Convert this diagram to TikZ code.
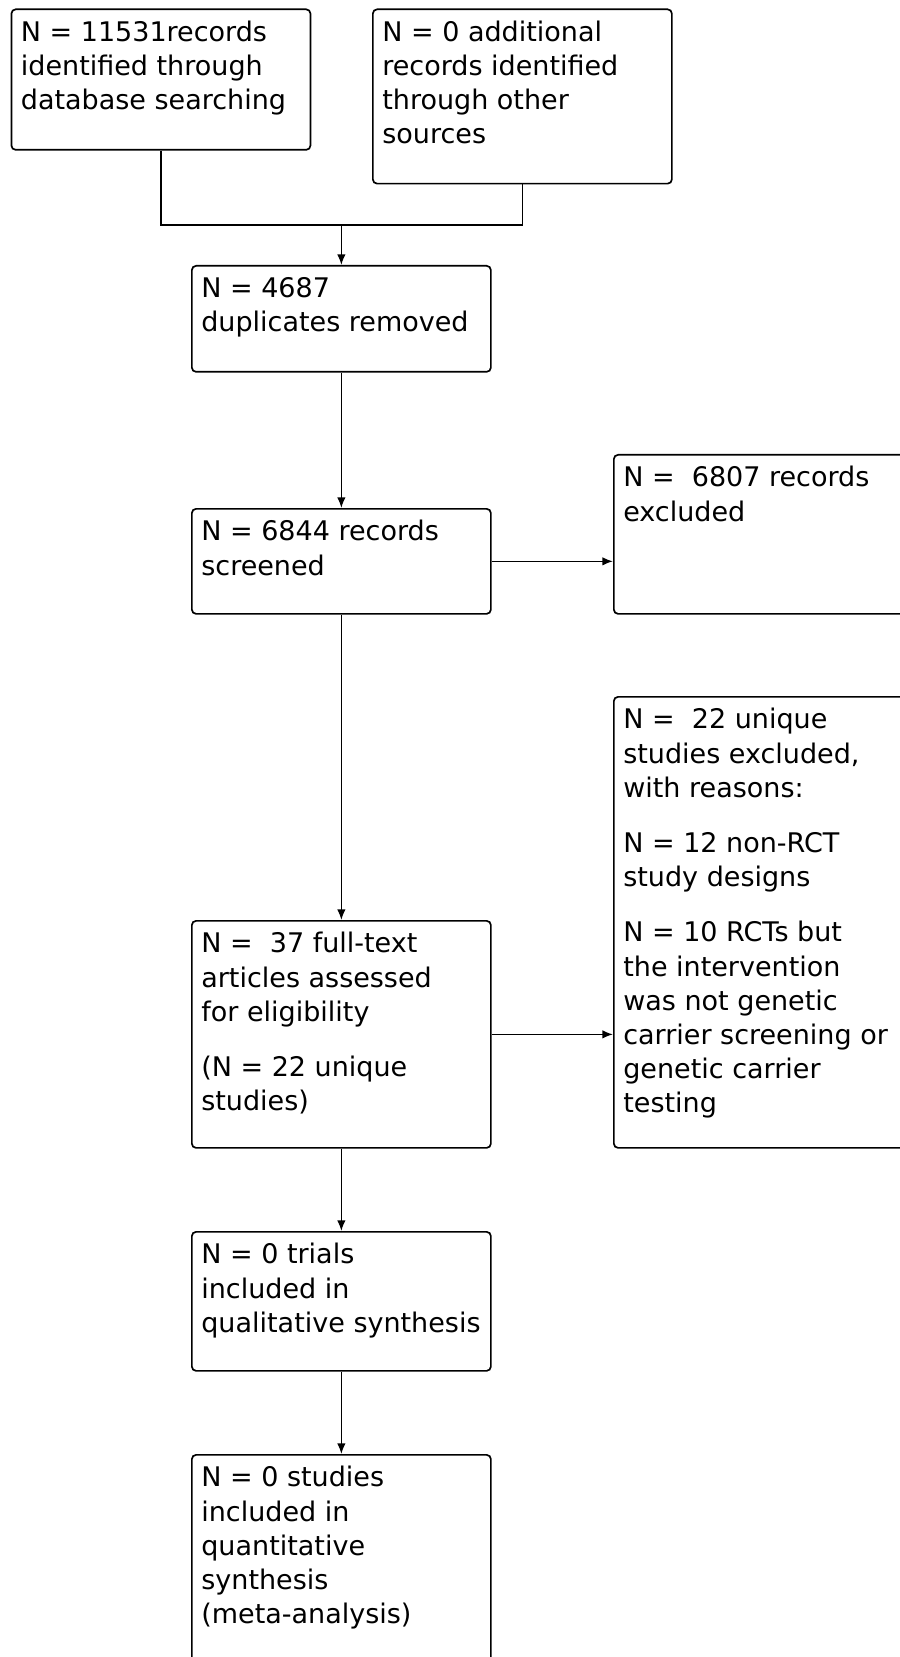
\documentclass[tikz,border=0pt]{standalone}
\usepackage{fontspec}
\setmainfont{DejaVu Sans}
\usetikzlibrary{arrows.meta,positioning,calc}

\newcommand{\boxtext}[2]{\parbox[c][\dimexpr#1-22pt\relax][t]{\dimexpr9.967cm-18pt\relax}{\raggedright #2}}

\begin{document}
\begin{tikzpicture}[
  flowbox/.style={draw, line width=1.6pt, rounded corners=4pt, anchor=north west, inner xsep=9pt, inner ysep=11pt, font=\fontsize{25.6pt}{32.4pt}\selectfont},
  flowline/.style={line width=1.6pt},
  flowarrow/.style={line width=1.6pt, -{Latex[length=10pt,width=8pt]}}
]
  \useasboundingbox (0,0) rectangle (29.967,-55.233);
  \fill[white] (0,0) rectangle (29.967,-55.233);

  % Identification
  \node[flowbox] (records) at (0.353,-0.283) {\boxtext{4.683cm}{N = 11531records\\identified through\\database searching}};
  \node[flowbox] (other) at (12.4,-0.283) {\boxtext{5.81cm}{N = 0 additional\\records identified\\through other\\sources}};
  \node[flowbox] (dupes) at (6.367,-8.833) {\boxtext{3.533cm}{N = 4687\\duplicates removed}};

  % Screening
  \node[flowbox] (screened) at (6.367,-16.933) {\boxtext{3.5cm}{N = 6844 records\\screened}};
  \node[flowbox] (excluded) at (20.433,-15.133) {\boxtext{5.3cm}{N =\ \ 6807 records\\excluded}};

  % Eligibility
  \node[flowbox] (fulltext) at (6.367,-30.667) {\boxtext{7.567cm}{N =\ \ 37 full-text\\articles assessed\\for eligibility\\[20pt](N = 22 unique\\studies)}};
  \node[flowbox] (reasons) at (20.433,-23.2) {\boxtext{15.033cm}{N =\ \ 22 unique\\studies excluded,\\with reasons:\\[20pt]N = 12 non-RCT\\study designs\\[20pt]N = 10 RCTs but\\the intervention\\was not genetic\\carrier screening or\\genetic carrier\\testing}};

  % Included
  \node[flowbox] (qualit) at (6.367,-41.033) {\boxtext{4.633cm}{N = 0 trials\\included in\\qualitative synthesis}};
  \node[flowbox] (quantit) at (6.367,-48.467) {\boxtext{8.3cm}{N = 0 studies\\included in\\quantitative\\synthesis\\(meta-analysis)}};

  \coordinate (merge) at ([yshift=1.333cm]dupes.north);
  \draw[flowline] (records.south) |- (merge) -| (other.south);
  \draw[flowarrow] (merge) -- (dupes.north);
  \draw[flowarrow] (dupes.south) -- (screened.north);
  \draw[flowarrow] (screened.east) -- (screened.east -| excluded.west);
  \draw[flowarrow] (screened.south) -- (fulltext.north);
  \draw[flowarrow] (fulltext.east) -- (fulltext.east -| reasons.west);
  \draw[flowarrow] (fulltext.south) -- (qualit.north);
  \draw[flowarrow] (qualit.south) -- (quantit.north);
\end{tikzpicture}
\end{document}
